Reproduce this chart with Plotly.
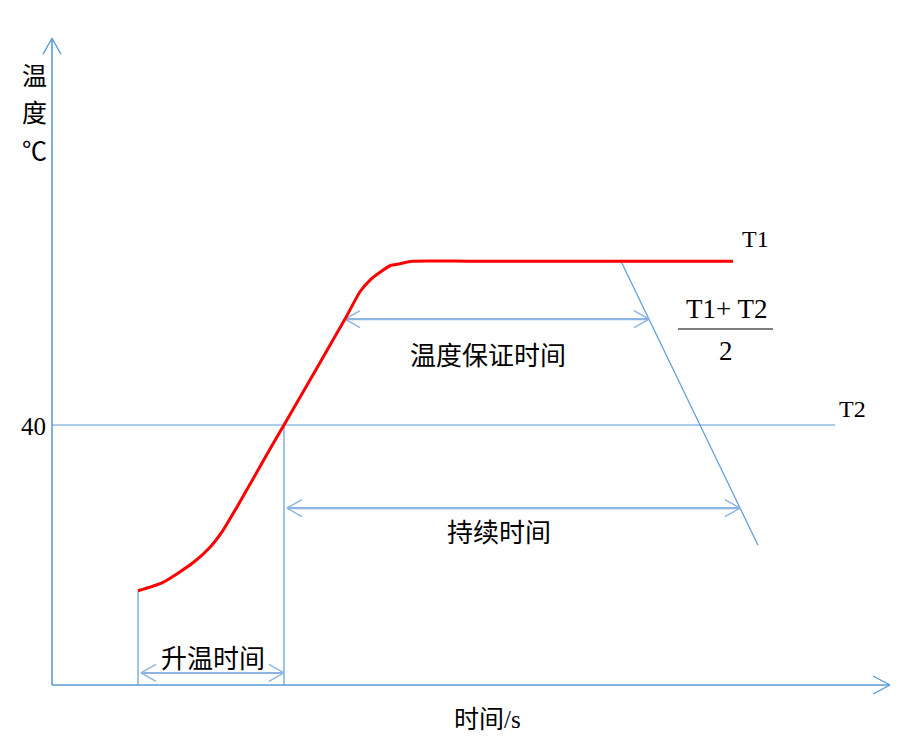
import plotly.graph_objects as go

# heating curve: time (s) vs temperature (°C)
curve_time = [86, 111, 141, 158, 171, 185, 201, 218, 232, 293, 308, 318, 328, 338, 348, 360, 420, 681]
curve_temp = [14.5, 15.8, 18.8, 21.2, 23.8, 27.4, 31.7, 36.3, 40.0, 56.3, 60.5, 62.3, 63.5, 64.5, 64.8, 65.2, 65.2, 65.2]

# cooling guide line
cool_time = [569, 706]
cool_temp = [65.2, 21.5]

# T2 level
t2_value = 40
t2_time = [0, 783]

# start of heating and crossing of T2
heat_start = 86
t2_cross = 232

# interval arrows
hold_span = [293, 597]
hold_level = 56.3
duration_span = [235, 688]
duration_level = 27.2
heat_span = [89, 232]
heat_level = 1.85

x_end = 838
y_end = 99.5

# pixel mapping of the drawing (page pixels)
OX, OY = 52, 685
PX_X, PX_Y = 1.0, 6.5
PAGE_PAD = 8          # default body margin of the page
W, H = 898 - 2 * PAGE_PAD, 740 - 2 * PAGE_PAD

BLUE = "#5B9BD5"
LIGHT = "#8DB4E2"
SERIF = "Liberation Serif, Noto Sans CJK SC"
CJK = "Noto Sans CJK SC"


def head(tx, ty, dx, dy, back=15, side=8.5):
    # open V arrowhead at (tx, ty) pointing along (dx, dy) in screen pixels
    px, py = OX + tx * PX_X, OY - ty * PX_Y
    n = (dx * dx + dy * dy) ** 0.5
    ux, uy = dx / n, dy / n
    pts = [(px - ux * back - uy * side, py - uy * back + ux * side),
           (px, py),
           (px - ux * back + uy * side, py - uy * back - ux * side)]
    return [(p[0] - OX) / PX_X for p in pts], [(OY - p[1]) / PX_Y for p in pts]


fig = go.Figure()


def line(x, y, color=BLUE, width=1.2):
    fig.add_trace(go.Scatter(x=x, y=y, mode="lines", line=dict(color=color, width=width),
                             hoverinfo="skip", showlegend=False))


# axes
line([0, 0], [0, y_end], BLUE, 1.6)
line([0, x_end], [0, 0], BLUE, 1.6)
hx, hy = head(0, y_end, 0, -1, back=16, side=9)
line(hx, hy, BLUE, 1.4)
hx, hy = head(x_end, 0, 1, 0, back=17, side=9)
line(hx, hy, BLUE, 1.4)

# guide lines
line(t2_time, [t2_value, t2_value], BLUE, 1)
line(cool_time, cool_temp, BLUE, 1.2)
line([heat_start, heat_start], [0, curve_temp[0]], BLUE, 1.2)
line([t2_cross, t2_cross], [0, t2_value], BLUE, 1.2)

# interval arrows
for span, lvl in [(hold_span, hold_level), (duration_span, duration_level), (heat_span, heat_level)]:
    line(span, [lvl, lvl], LIGHT, 2.2)
    hx, hy = head(span[0], lvl, -1, 0)
    line(hx, hy, LIGHT, 1.4)
    hx, hy = head(span[1], lvl, 1, 0)
    line(hx, hy, LIGHT, 1.4)

# temperature curve
fig.add_trace(go.Scatter(x=curve_time, y=curve_temp, mode="lines",
                         line=dict(color="#FF0000", width=3, shape="spline", smoothing=0.6),
                         hoverinfo="skip", showlegend=False))


def py2y(py):
    return (OY - py) / PX_Y


def px2x(px):
    return (px - OX) / PX_X


def label(px, py, text, family=CJK, size=26):
    fig.add_annotation(x=px2x(px), y=py2y(py), text=text, showarrow=False,
                       xanchor="center", yanchor="middle",
                       font=dict(family=family, size=size, color="black"))


label(488, 353, "温度保证时间")
label(499, 530, "持续时间")
label(213, 656, "升温时间")
label(487, 719, "时间/s", SERIF, 25)
label(34, 74, "温", CJK, 25)
label(34, 111, "度", CJK, 25)
label(34, 151, "℃", SERIF, 25)
label(33, 426, "40", SERIF, 25)
label(755, 239, "T1", SERIF, 24)
label(852, 409, "T2", SERIF, 24)
label(726, 309, "T1+ T2", SERIF, 27)
label(726, 351, "2", SERIF, 27)
fig.add_shape(type="line", x0=px2x(678), x1=px2x(773), y0=py2y(329), y1=py2y(329),
              line=dict(color="black", width=1.2))

fig.update_layout(
    width=W, height=H, margin=dict(l=0, r=0, t=0, b=0),
    paper_bgcolor="white", plot_bgcolor="white",
    xaxis=dict(range=[px2x(PAGE_PAD), px2x(PAGE_PAD + W)], visible=False, fixedrange=True),
    yaxis=dict(range=[py2y(PAGE_PAD + H), py2y(PAGE_PAD)], visible=False, fixedrange=True),
)

fig.write_html("out.html")
